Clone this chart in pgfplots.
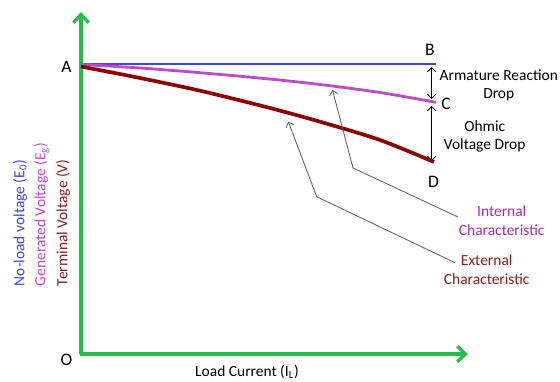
\documentclass[border=0pt]{standalone}
\usepackage{fontspec}
\setmainfont{Carlito}
\usepackage{pgfplots}
\pgfplotsset{compat=1.18}
\usetikzlibrary{arrows.meta}
\definecolor{vblue}{RGB}{63,72,210}
\definecolor{vpurple}{RGB}{190,75,200}
\definecolor{vred}{RGB}{140,0,0}
\definecolor{vgreen}{RGB}{34,190,70}
\definecolor{lpurple}{RGB}{165,45,175}
\definecolor{lred}{RGB}{135,30,30}
\definecolor{ptr}{RGB}{95,95,95}
\begin{document}
\begin{tikzpicture}
\begin{axis}[
  scale only axis,
  width=14cm, height=9.525cm,
  xmin=0, xmax=560, ymin=0, ymax=381,
  y dir=reverse,
  axis lines=none,
  clip=false,
  font=\fontsize{11}{13}\selectfont,
]
% axes
\addplot[vgreen, line width=2.2pt, -{Straight Barb[length=6pt,width=11pt,line width=2.2pt]}] coordinates {(81,354) (81,12)};
\addplot[vgreen, line width=2.2pt, -{Straight Barb[length=6pt,width=11pt,line width=2.2pt]}] coordinates {(80,354) (468,354)};
% no-load voltage
\addplot[vblue, line width=1.7pt] coordinates {(81,64.3) (436,64.3)};
% internal characteristic
\addplot[vpurple, line width=2pt, smooth] coordinates {(81,64.5) (140,68) (200,72.7) (265,78.6) (320,84.5) (380,92.5) (436,102.3)};
% external characteristic
\addplot[vred, line width=2.6pt, smooth] coordinates {(81,66.5) (140,78) (200,90.7) (265,106.7) (320,121.7) (380,140) (434,162)};
% drops
\addplot[black, line width=0.6pt, {Straight Barb[length=3pt,width=6pt]}-{Straight Barb[length=3pt,width=6pt]}] coordinates {(431.7,67) (431.7,99)};
\addplot[black, line width=0.6pt, {Straight Barb[length=3pt,width=6pt]}-{Straight Barb[length=3pt,width=6pt]}] coordinates {(431.7,106) (431.7,161)};
% pointers
\addplot[ptr, line width=0.6pt, {Straight Barb[length=3pt,width=6pt]}-] coordinates {(332.5,90) (353,168) (458,217)};
\addplot[ptr, line width=0.6pt, {Straight Barb[length=3pt,width=6pt]}-] coordinates {(288.3,121.7) (316.7,196.7) (455,262.7)};
% letters
\node[font=\fontsize{12.5}{14}\selectfont] at (axis cs:66.5,66.7) {A};
\node[font=\fontsize{12.5}{14}\selectfont] at (axis cs:430,50) {B};
\node[font=\fontsize{12.5}{14}\selectfont] at (axis cs:446,104) {C};
\node[font=\fontsize{12.5}{14}\selectfont] at (axis cs:433.5,181.5) {D};
\node[font=\fontsize{12.5}{14}\selectfont] at (axis cs:66.5,360) {O};
% texts
\node at (axis cs:498.8,75) {Armature Reaction};
\node at (axis cs:498.8,95) {Drop};
\node at (axis cs:484.7,126) {Ohmic};
\node at (axis cs:484.7,145) {Voltage Drop};
\node[text=lpurple] at (axis cs:501.7,210.7) {Internal};
\node[text=lpurple] at (axis cs:501.7,230) {Characteristic};
\node[text=lred] at (axis cs:486.7,260) {External};
\node[text=lred] at (axis cs:486.7,279) {Characteristic};
\node at (axis cs:247,372) {Load Current (I\textsubscript{L})};
\node[text=vblue, rotate=90, anchor=west] at (axis cs:20,291) {No-load voltage (E\textsubscript{0})};
\node[text=vpurple, rotate=90, anchor=west] at (axis cs:41.7,291) {Generated Voltage (E\textsubscript{g})};
\node[text=lred, rotate=90, anchor=west] at (axis cs:63,291) {Terminal Voltage (V)};
\end{axis}
\pgfresetboundingbox
\path (current axis.south west) rectangle (current axis.north east);
\end{tikzpicture}
\end{document}
